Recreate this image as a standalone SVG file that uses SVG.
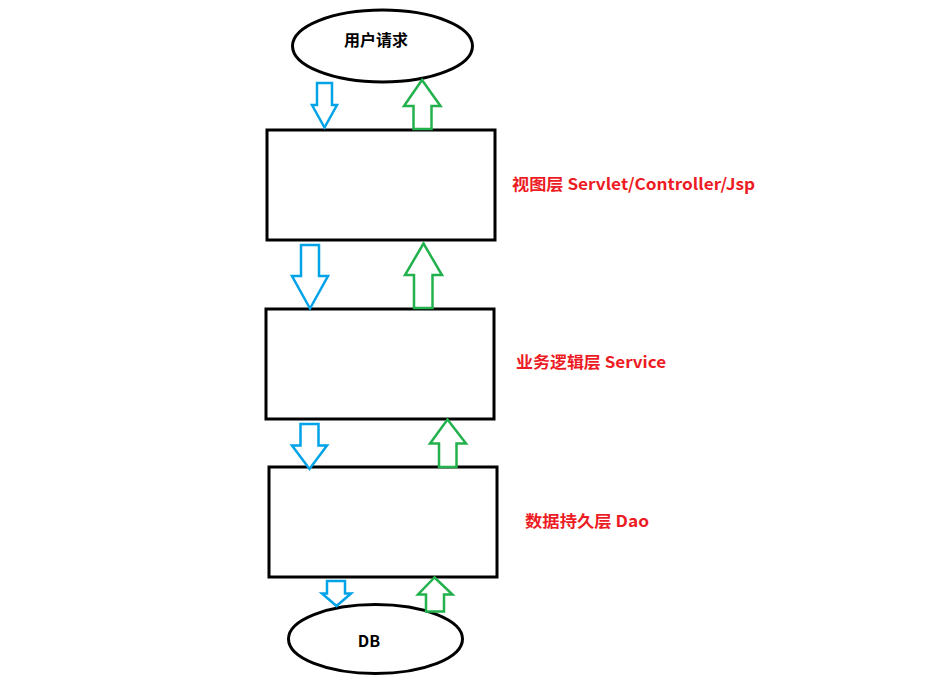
<svg xmlns="http://www.w3.org/2000/svg" width="948" height="688" viewBox="0 0 948 688">
<style>
.box{fill:#fff;stroke:#000;stroke-width:3}
.ell{fill:#fff;stroke:#000;stroke-width:3}
.dn{fill:#fff;stroke:#00a2e8;stroke-width:2.5;stroke-linejoin:miter}
.up{fill:#fff;stroke:#22b14c;stroke-width:2.5;stroke-linejoin:miter}
.lbl{font-family:"Noto Sans CJK SC","Microsoft YaHei",sans-serif;font-weight:bold;font-size:16px;fill:#ed1c24}
.nt{font-family:"Noto Sans CJK SC","Microsoft YaHei",sans-serif;font-weight:bold;font-size:16px;fill:#000}
</style>
<rect width="948" height="688" fill="#fff"/>
<g id="user">
<ellipse class="ell" cx="382.5" cy="46" rx="90" ry="36"/>
<text class="nt" x="376" y="42" text-anchor="middle" dominant-baseline="middle">用户请求</text>
</g>
<g id="view">
<rect class="box" x="267" y="130" width="228" height="110"/>
</g>
<g id="service">
<rect class="box" x="266" y="309" width="228" height="110"/>
</g>
<g id="dao">
<rect class="box" x="269" y="467" width="228" height="110"/>
</g>
<g id="db">
<ellipse class="ell" cx="375.5" cy="639" rx="87" ry="34.5"/>
<text class="nt" x="369" y="643" text-anchor="middle" dominant-baseline="middle">DB</text>
</g>
<g id="labels">
<text class="lbl" x="512" y="190" textLength="243" lengthAdjust="spacingAndGlyphs">视图层 Servlet/Controller/Jsp</text>
<text class="lbl" x="516" y="368" textLength="150" lengthAdjust="spacingAndGlyphs">业务逻辑层 Service</text>
<text class="lbl" x="525" y="527" textLength="124" lengthAdjust="spacingAndGlyphs">数据持久层 Dao</text>
</g>
<g id="connectors">
<polygon class="dn" points="317,83 332,83 332,105 337,105 324.5,127.5 312,105 317,105"/>
<polygon class="up" points="422,80 440.5,106 431.5,106 431.5,129 413.5,129 413.5,106 404,106"/>
<polygon class="dn" points="301,245 319,245 319,276 328,276 310,308.5 292,276 301,276"/>
<polygon class="up" points="423.5,243.5 442,275 432.5,275 432.5,308 414,308 414,275 405,275"/>
<polygon class="dn" points="300.5,424 318.5,424 318.5,445.5 327,445.5 309.5,469 292,445.5 300.5,445.5"/>
<polygon class="up" points="447.5,419.5 466,443.5 456.5,443.5 456.5,467 439,467 439,443.5 430,443.5"/>
<polygon class="dn" points="327,581 345,581 345,593.5 351,593.5 336.5,606 322,593.5 327,593.5"/>
<polygon class="up" points="434.5,577.5 452.5,594.5 444,594.5 444,611.5 426,611.5 426,594.5 418,594.5"/>
</g>
</svg>
